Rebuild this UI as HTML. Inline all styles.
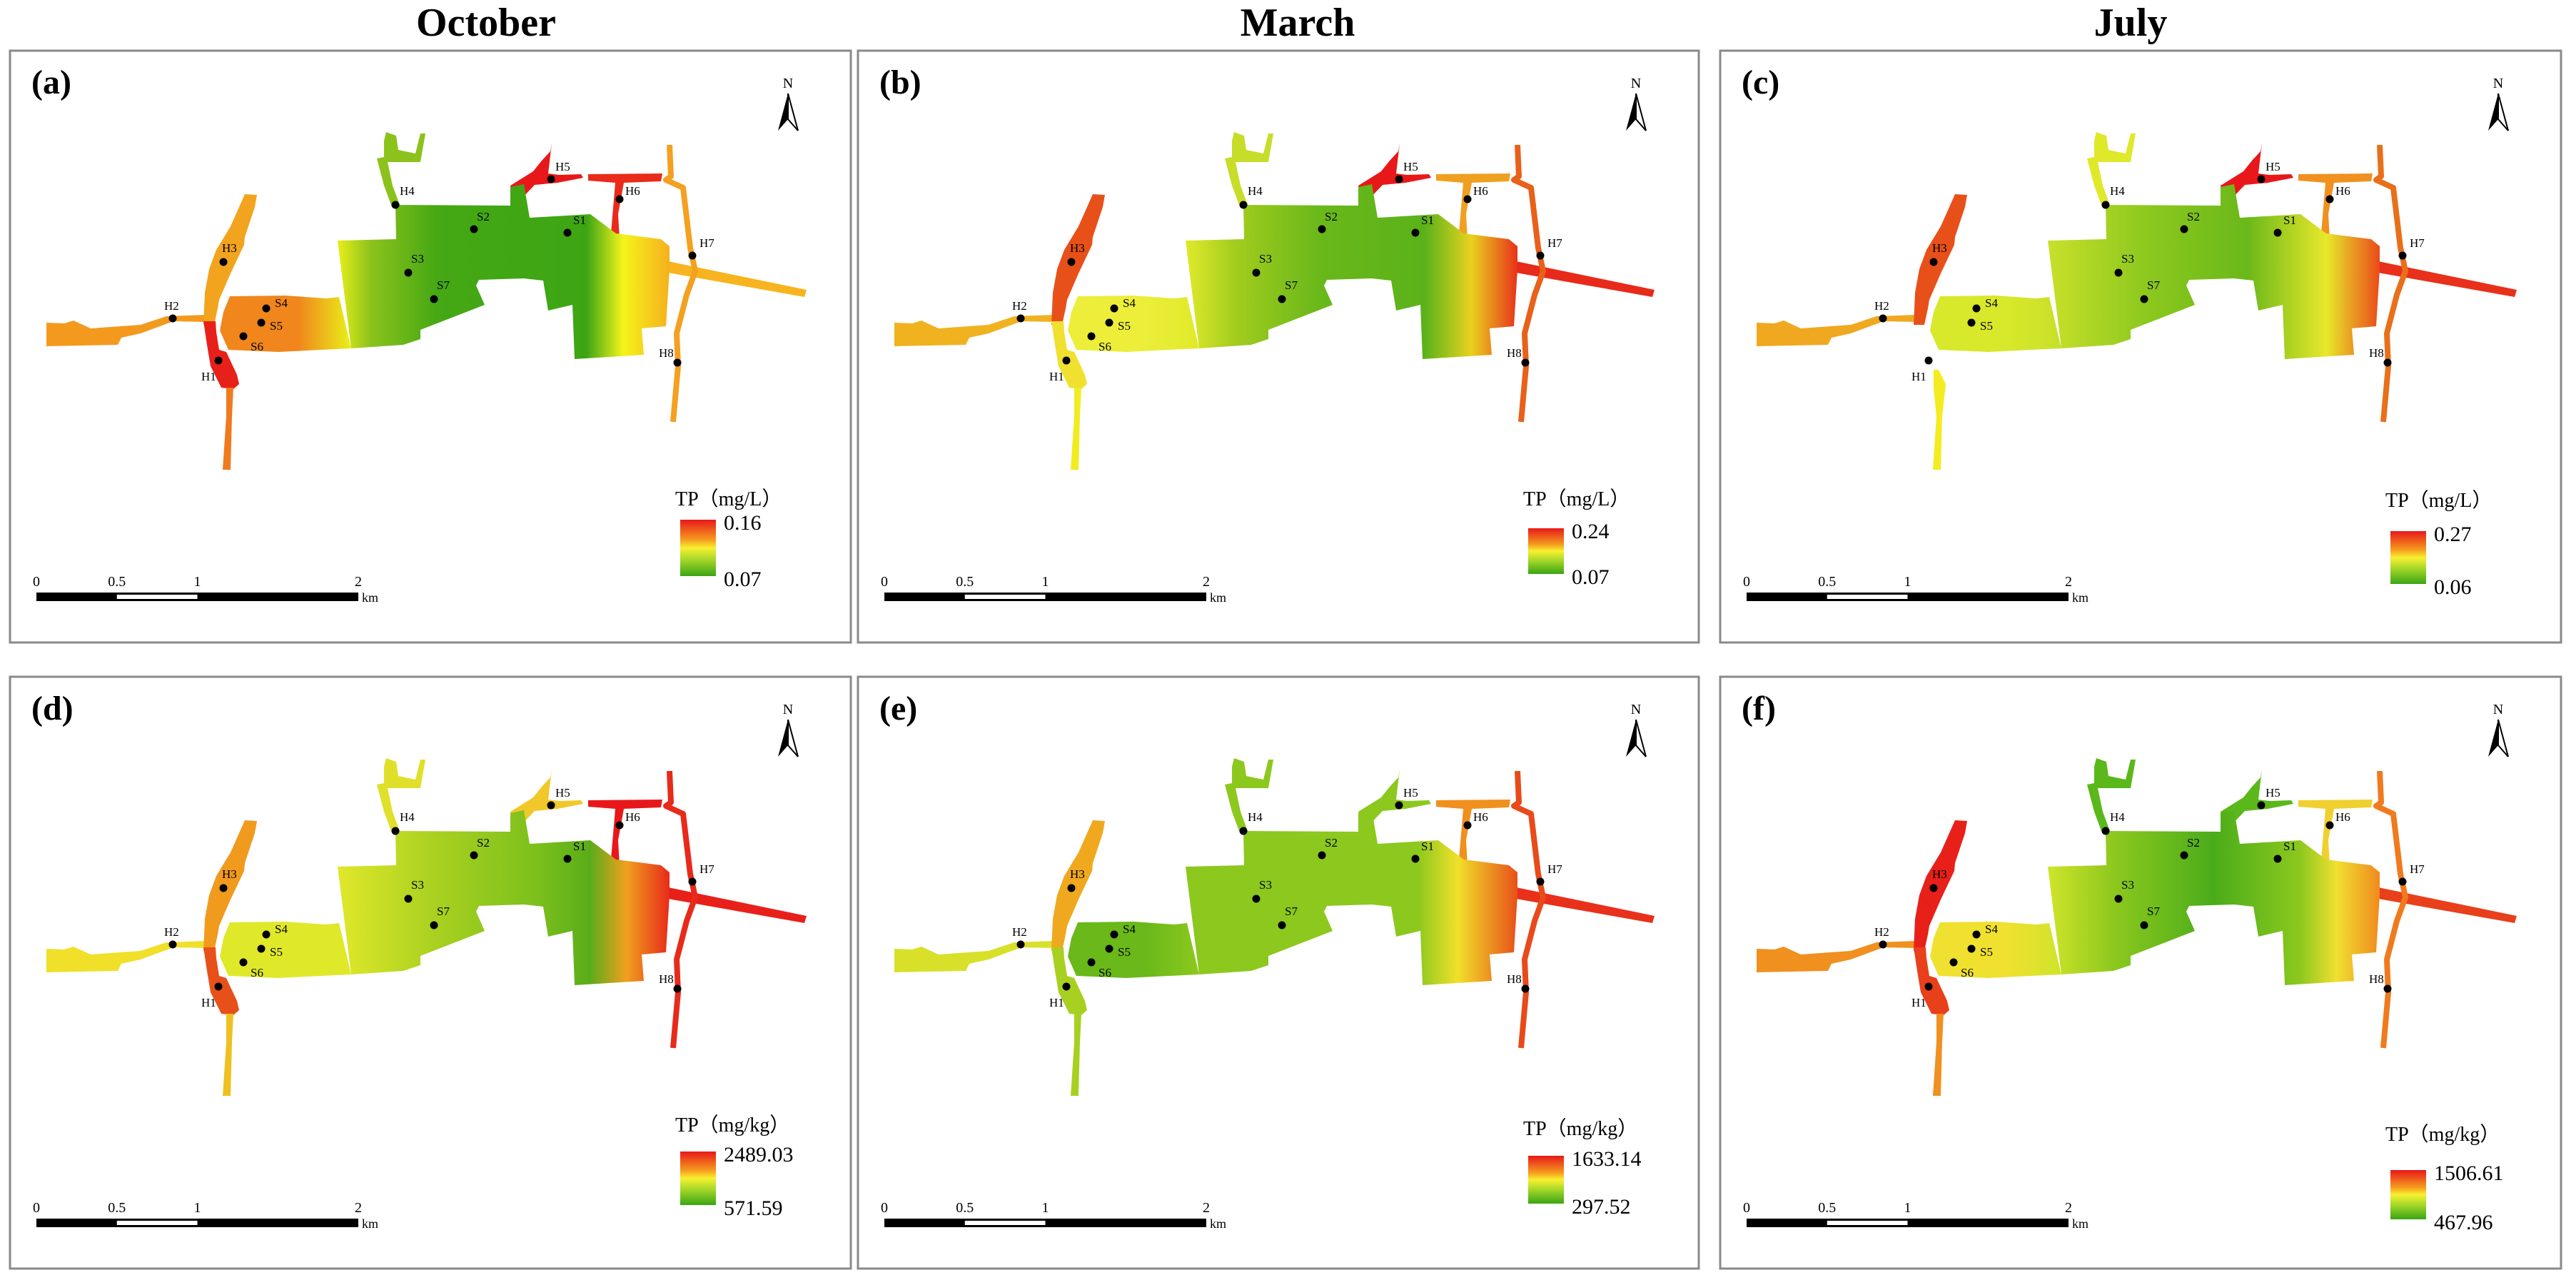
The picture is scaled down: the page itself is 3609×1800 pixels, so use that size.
<!DOCTYPE html>
<html><head><meta charset="utf-8">
<style>
html,body{margin:0;padding:0;background:#fff;}
svg{display:block;font-family:"Liberation Serif",serif;}
</style></head>
<body>
<svg id="fig" width="3609" height="1800" viewBox="0 0 3609 1800" xmlns="http://www.w3.org/2000/svg">
<g>
<text x="681" y="50" font-size="56" font-weight="bold" text-anchor="middle">October</text>
<text x="1818" y="50" font-size="56" font-weight="bold" text-anchor="middle">March</text>
<text x="2985" y="50" font-size="56" font-weight="bold" text-anchor="middle">July</text>
</g>
</svg>
<script>
const panelLetters = ['(a)','(b)','(c)','(d)','(e)','(f)'];
const legendUnits = ['TP（mg/L）','TP（mg/L）','TP（mg/L）','TP（mg/kg）','TP（mg/kg）','TP（mg/kg）'];
const legendMax = ['0.16','0.24','0.27','2489.03','1633.14','1506.61'];
const legendMin = ['0.07','0.07','0.06','571.59','297.52','467.96'];
const scaleTicks = ['0','0.5','1','2'];
const scaleTickKm = [0,0.5,1,2];
const stationNames = ['H1','H2','H3','H4','H5','H6','H7','H8','S1','S2','S3','S4','S5','S6','S7'];

const NS='http://www.w3.org/2000/svg';
const svg=document.getElementById('fig');
function mk(tag,attrs,parent){const e=document.createElementNS(NS,tag);for(const k in attrs)e.setAttribute(k,attrs[k]);if(parent)parent.appendChild(e);return e;}

const panelX=[14,1202,2410,14,1202,2410];
const panelY=[71,71,71,948,948,948];
const PW=1178, PH=829;
const legTitleY=[627,627,629,627,632,640];
const legBar=[[657,736],[669,733],[673,747],[665,740],[671,738],[691,760]];

// geometry in absolute coords of panel (a); translated per panel
function pts(arr){return arr.map(p=>p[0]+','+p[1]).join(' ');}
const mainBody=[[554,287],[715,288],[715,262],[734,258],[742,305],[827,300],[863,327],[926,335],[938,345],[938,377],[933,457],[899,460],[902,497],[805,503],[802,427],[768,435],[761,393],[734,390],[671,392],[667,400],[679,427],[589,462],[589,475],[565,483],[492,488],[473,337],[555,335]];
const lobe=[[313,437],[322,415],[400,414],[457,418],[475,416],[492,488],[450,490],[390,493],[320,490],[308,463]];
const h2chan=[[65,452],[90,453],[103,449],[127,460],[197,455],[233,443],[290,441],[290,451],[243,450],[197,467],[170,473],[165,483],[65,485]];
const h3chan=[[343,272],[360,273],[357,290],[343,332],[342,343],[323,383],[307,420],[305,432],[300,455],[285,455],[287,410],[293,377],[303,350],[323,317]];
const h1top=[[285,450],[302,450],[303,465],[307,490],[317,493],[332,525],[335,538],[327,545],[310,543],[295,513],[290,483]];
const h1low=[[317,543],[327,543],[325,583],[323,658],[312,658],[317,583]];
const h1lowC=[[313,518],[320,518],[330,538],[325,583],[323,658],[312,658],[317,583],[313,545]];
const h4chan=[[541,185],[555,190],[558,210],[582,215],[589,187],[596,187],[589,227],[543,227],[550,260],[560,287],[548,287],[538,260],[528,222],[538,220],[538,197]];
const h5area=[[773,201],[771,212],[759,225],[747,240],[715,260],[718,282],[730,279],[749,259],[781,256],[817,249],[814,244],[783,245],[768,243]];
const h6chan=[[824,244],[928,243],[926,254],[874,256],[866,300],[868,335],[855,338],[862,256],[824,253]];
const h7line=[[938,203],[940,247],[933,252],[957,263],[967,347],[974,380],[962,413],[948,467],[950,513],[943,591]];
const eastChan=[[936,366],[1130,406],[1127,416],[936,382]];
const stationPos=[[306,505],[242,446],[313,367],[554,287],[772,251],[868,279],[970,358],[949,508],[795,326],[664,321],[572,382],[373,432],[366,452],[341,471],[608,419]];
const labelOff=[[-24,28],[-12,-12],[-2,-14],[6,-14],[6,-12],[8,-6],[10,-12],[-26,-8],[8,-12],[4,-12],[4,-14],[12,-2],[12,10],[10,20],[4,-14]];

// colors per panel [h2,h3,h1top,h1low,lobe,h4,h5,h6,h7,east]
const col=[
 ['#f39a1e','#f2a41e','#e8201a','#f07a1e','#f0861c','#8cc21c','#e8181a','#ea2a1a','#f4a020','#f7b41e'],
 ['#f0b21e','#e8501a','#f0e030','#f0ec20','#ecee3a','#c8dc2a','#e8181a','#f0a020','#e8601a','#e82a1a'],
 ['#f0a820','#e8501a','#f0e030','#f4ec20','#d8e82a','#e0e82a','#e8181a','#f09020','#e8701a','#e8301a'],
 ['#f0e02a','#f09a1e','#e8501a','#f0c020','#e0e82a','#e0e02a','#f0c82a','#e8181a','#e82a1a','#e8201a'],
 ['#d8e02a','#f0a81e','#a8d020','#a8d020','#6ab81a','#8cc81e','#8cc81e','#f0901e','#e84a1a','#e8301a'],
 ['#f0901e','#e8201a','#e8401a','#f09020','#f0e030','#5ab81a','#5ab81a','#f0d030','#f07a1e','#e8401a']];
const grad=[
 [[0,'#e8ee1a'],[0.1,'#8cc21c'],[0.3,'#45a814'],[0.75,'#3da514'],[0.86,'#f4f41a'],[1,'#f6b01e']],
 [[0,'#e0ea2a'],[0.15,'#a2cc1e'],[0.4,'#6ab81a'],[0.72,'#5ab21a'],[0.86,'#e8d21e'],[1,'#e8321a']],
 [[0,'#c8e02a'],[0.3,'#8cc81e'],[0.6,'#6ab81a'],[0.84,'#e8e82a'],[1,'#ea4a1a']],
 [[0,'#e0e82a'],[0.3,'#a8d020'],[0.6,'#7cc01c'],[0.76,'#5aac1a'],[0.87,'#f0a01e'],[1,'#e82a1a']],
 [[0,'#8cc81e'],[0.7,'#8cc81e'],[0.82,'#f0e02a'],[1,'#e8501a']],
 [[0,'#d0e42a'],[0.2,'#8cc81e'],[0.5,'#4aac1a'],[0.76,'#8cc81e'],[0.87,'#f0e030'],[1,'#f08a1e']]];

const defs=mk('defs',{},svg);
for(let i=0;i<6;i++){
  const g=mk('linearGradient',{id:'mg'+i,gradientUnits:'userSpaceOnUse',x1:473,y1:0,x2:938,y2:0},defs);
  grad[i].forEach(s=>mk('stop',{offset:s[0],'stop-color':s[1]},g));
  const lg2=mk('linearGradient',{id:'lb'+i,gradientUnits:'userSpaceOnUse',x1:310,y1:0,x2:490,y2:0},defs);
  mk('stop',{offset:0,'stop-color':col[i][4]},lg2);
  mk('stop',{offset:0.6,'stop-color':col[i][4]},lg2);
  mk('stop',{offset:1,'stop-color':grad[i][0][1]},lg2);
  const lg=mk('linearGradient',{id:'lg'+i,x1:0,y1:0,x2:0,y2:1},defs);
  [[0,'#e8181a'],[0.35,'#f59a1e'],[0.5,'#f8f030'],[0.7,'#a8d82a'],[1,'#3aa514']].forEach(s=>mk('stop',{offset:s[0],'stop-color':s[1]},lg));
}

for(let i=0;i<6;i++){
  const P=mk('g',{transform:`translate(${panelX[i]},${panelY[i]})`},svg);
  
  
  const frame=mk('rect',{x:0,y:0,width:PW,height:PH,fill:'#fff',stroke:'#8a8a8a','stroke-width':3},P);
  
  
  const lab=mk('text',{x:30,y:60,'font-size':48,'font-weight':'bold'},P);lab.textContent=panelLetters[i];
  
  
  const na=mk('g',{},P);
  
  
  const nt=mk('text',{x:1090,y:52,'font-size':20,'text-anchor':'middle'},na);nt.textContent='N';
  mk('path',{d:'M1090 60 L1076 112 L1090 96 Z',fill:'#000'},na);
  mk('path',{d:'M1090 60 L1104 112 L1090 96 Z',fill:'#fff',stroke:'#000','stroke-width':2},na);
  const M=mk('g',{transform:'translate(-14,-71)'},P);
  
  
  const c=col[i];
  const poly=(arr,fill,name)=>{const e=mk('polygon',{points:pts(arr),fill:fill},M);return e;};
  poly(h2chan,c[0],'h2-channel');
  poly(h3chan,c[1],'h3-channel');
  if(i!==2){poly(h1top,c[2],'h1-channel-upper');poly(h1low,c[3],'h1-channel-lower');}
  else poly(h1lowC,c[3],'h1-channel-lower');
  poly(h4chan,c[5],'h4-channel');
  poly(h5area,c[6],'h5-channel');
  poly(h6chan,c[7],'h6-channel');
  poly(eastChan,c[9],'east-channel');
  const pl=mk('polyline',{points:pts(h7line),fill:'none',stroke:c[8],'stroke-width':8,'stroke-linejoin':'round'},M);
  
  
  poly(lobe,`url(#lb${i})`,'west-basin');
  poly(mainBody,`url(#mg${i})`,'main-basin');
  stationPos.forEach((p,k)=>{
    if(i===2&&k===13)return;
    const d=mk('circle',{cx:p[0],cy:p[1],r:5.5,fill:'#000'},M);
    
    
    const t=mk('text',{x:p[0]+labelOff[k][0],y:p[1]+labelOff[k][1],'font-size':17},M);t.textContent=stationNames[k];
    
    
  });
  const L=mk('g',{},P);
  
  
  const lt=mk('text',{x:932,y:legTitleY[i]+10,'font-size':28},L);lt.textContent=legendUnits[i];
  
  
  const b=legBar[i];
  const lb=mk('rect',{x:939,y:b[0],width:50,height:b[1]-b[0],fill:`url(#lg${i})`},L);
  
  
  const t1=mk('text',{x:1000,y:b[0]+14,'font-size':30},L);t1.textContent=legendMax[i];
  
  
  const t2=mk('text',{x:1000,y:b[1]+14,'font-size':30},L);t2.textContent=legendMin[i];
  
  
  const S=mk('g',{},P);
  
  
  const kx=km=>37+km*225.5;
  mk('rect',{x:kx(0),y:759,width:kx(2)-kx(0),height:12,fill:'#000'},S);
  mk('rect',{x:kx(0.5),y:762,width:kx(1)-kx(0.5),height:6,fill:'#fff'},S);
  scaleTicks.forEach((s,k)=>{const t=mk('text',{x:kx(scaleTickKm[k]),y:750,'font-size':20,'text-anchor':'middle'},S);t.textContent=s;
    
    });
  const km=mk('text',{x:kx(2)+5,y:772,'font-size':18},S);km.textContent='km';
  
  
}
</script>
</body></html>
